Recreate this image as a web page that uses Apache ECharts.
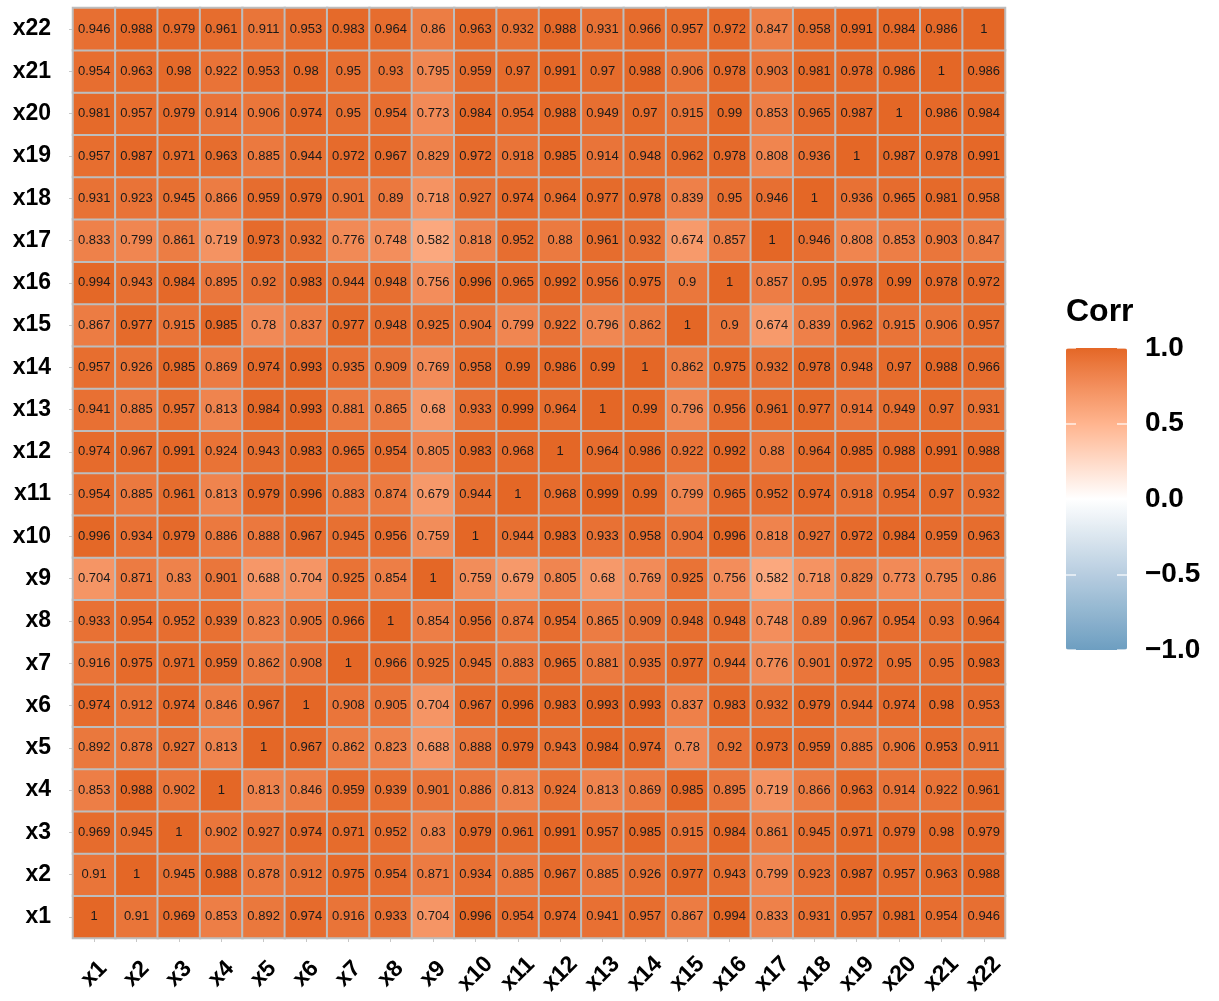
<!DOCTYPE html>
<html>
<head>
<meta charset="utf-8">
<script src="https://cdn.jsdelivr.net/npm/echarts@6/dist/echarts.min.js"></script>
<style>
  html, body { margin: 0; padding: 0; background: #fff; }
  #main { width: 1219px; height: 1001px; }
</style>
</head>
<body>
<div id="main"></div>
<script>
// variable names, bottom to top / left to right
var vars = ["x1","x2","x3","x4","x5","x6","x7","x8","x9","x10","x11",
            "x12","x13","x14","x15","x16","x17","x18","x19","x20","x21","x22"];

// correlation rows, one per variable (x1 .. x22), columns x1 .. x22
var corrRows = [
  [1,0.91,0.969,0.853,0.892,0.974,0.916,0.933,0.704,0.996,0.954,0.974,0.941,0.957,0.867,0.994,0.833,0.931,0.957,0.981,0.954,0.946],
  [0.91,1,0.945,0.988,0.878,0.912,0.975,0.954,0.871,0.934,0.885,0.967,0.885,0.926,0.977,0.943,0.799,0.923,0.987,0.957,0.963,0.988],
  [0.969,0.945,1,0.902,0.927,0.974,0.971,0.952,0.83,0.979,0.961,0.991,0.957,0.985,0.915,0.984,0.861,0.945,0.971,0.979,0.98,0.979],
  [0.853,0.988,0.902,1,0.813,0.846,0.959,0.939,0.901,0.886,0.813,0.924,0.813,0.869,0.985,0.895,0.719,0.866,0.963,0.914,0.922,0.961],
  [0.892,0.878,0.927,0.813,1,0.967,0.862,0.823,0.688,0.888,0.979,0.943,0.984,0.974,0.78,0.92,0.973,0.959,0.885,0.906,0.953,0.911],
  [0.974,0.912,0.974,0.846,0.967,1,0.908,0.905,0.704,0.967,0.996,0.983,0.993,0.993,0.837,0.983,0.932,0.979,0.944,0.974,0.98,0.953],
  [0.916,0.975,0.971,0.959,0.862,0.908,1,0.966,0.925,0.945,0.883,0.965,0.881,0.935,0.977,0.944,0.776,0.901,0.972,0.95,0.95,0.983],
  [0.933,0.954,0.952,0.939,0.823,0.905,0.966,1,0.854,0.956,0.874,0.954,0.865,0.909,0.948,0.948,0.748,0.89,0.967,0.954,0.93,0.964],
  [0.704,0.871,0.83,0.901,0.688,0.704,0.925,0.854,1,0.759,0.679,0.805,0.68,0.769,0.925,0.756,0.582,0.718,0.829,0.773,0.795,0.86],
  [0.996,0.934,0.979,0.886,0.888,0.967,0.945,0.956,0.759,1,0.944,0.983,0.933,0.958,0.904,0.996,0.818,0.927,0.972,0.984,0.959,0.963],
  [0.954,0.885,0.961,0.813,0.979,0.996,0.883,0.874,0.679,0.944,1,0.968,0.999,0.99,0.799,0.965,0.952,0.974,0.918,0.954,0.97,0.932],
  [0.974,0.967,0.991,0.924,0.943,0.983,0.965,0.954,0.805,0.983,0.968,1,0.964,0.986,0.922,0.992,0.88,0.964,0.985,0.988,0.991,0.988],
  [0.941,0.885,0.957,0.813,0.984,0.993,0.881,0.865,0.68,0.933,0.999,0.964,1,0.99,0.796,0.956,0.961,0.977,0.914,0.949,0.97,0.931],
  [0.957,0.926,0.985,0.869,0.974,0.993,0.935,0.909,0.769,0.958,0.99,0.986,0.99,1,0.862,0.975,0.932,0.978,0.948,0.97,0.988,0.966],
  [0.867,0.977,0.915,0.985,0.78,0.837,0.977,0.948,0.925,0.904,0.799,0.922,0.796,0.862,1,0.9,0.674,0.839,0.962,0.915,0.906,0.957],
  [0.994,0.943,0.984,0.895,0.92,0.983,0.944,0.948,0.756,0.996,0.965,0.992,0.956,0.975,0.9,1,0.857,0.95,0.978,0.99,0.978,0.972],
  [0.833,0.799,0.861,0.719,0.973,0.932,0.776,0.748,0.582,0.818,0.952,0.88,0.961,0.932,0.674,0.857,1,0.946,0.808,0.853,0.903,0.847],
  [0.931,0.923,0.945,0.866,0.959,0.979,0.901,0.89,0.718,0.927,0.974,0.964,0.977,0.978,0.839,0.95,0.946,1,0.936,0.965,0.981,0.958],
  [0.957,0.987,0.971,0.963,0.885,0.944,0.972,0.967,0.829,0.972,0.918,0.985,0.914,0.948,0.962,0.978,0.808,0.936,1,0.987,0.978,0.991],
  [0.981,0.957,0.979,0.914,0.906,0.974,0.95,0.954,0.773,0.984,0.954,0.988,0.949,0.97,0.915,0.99,0.853,0.965,0.987,1,0.986,0.984],
  [0.954,0.963,0.98,0.922,0.953,0.98,0.95,0.93,0.795,0.959,0.97,0.991,0.97,0.988,0.906,0.978,0.903,0.981,0.978,0.986,1,0.986],
  [0.946,0.988,0.979,0.961,0.911,0.953,0.983,0.964,0.86,0.963,0.932,0.988,0.931,0.966,0.957,0.972,0.847,0.958,0.991,0.984,0.986,1]
];

// colour bar ticks
var legendTicks = [-1, -0.5, 0, 0.5, 1];

var cells = [];
corrRows.forEach(function(row, yi) {
  row.forEach(function(v, xi) {
    cells.push([xi, yi, v]);
  });
});

var font = "'Liberation Sans', Arial, sans-serif";

// blue - white - orange, with in-between stops so the ramp looks like a Lab blend
var ramp = ['#6D9EC1', '#92B6D0', '#B7CDE0', '#DBE6EF', '#FFFFFF',
            '#FFD9C7', '#FFB48E', '#F38E5C', '#E46726'];

var chart = echarts.init(document.getElementById('main'));
var option = {
  animation: false,
  textStyle: { fontFamily: font },
  grid: [
    { left: 73, top: 8, width: 932, height: 930 },
    { left: 1066, top: 348, width: 61, height: 302, z: 10 }
  ],
  xAxis: [
    {
      type: 'category', data: vars, gridIndex: 0,
      axisLine: { show: false },
      axisTick: { show: true, length: 4, lineStyle: { color: '#c8c8c8' }, alignWithLabel: true },
      axisLabel: {
        rotate: 45, margin: 36, align: 'center', verticalAlign: 'middle',
        fontSize: 23, fontWeight: 'bold', color: '#000', fontFamily: font
      },
      splitLine: { show: false }
    },
    { type: 'category', data: ['c'], gridIndex: 1, show: false }
  ],
  yAxis: [
    {
      type: 'category', data: vars, gridIndex: 0,
      axisLine: { show: false },
      axisTick: { show: true, length: 4, lineStyle: { color: '#c8c8c8' }, alignWithLabel: true },
      axisLabel: { margin: 22, fontSize: 23, fontWeight: 'bold', color: '#000', fontFamily: font },
      splitLine: { show: false }
    },
    {
      type: 'value', gridIndex: 1, position: 'right', min: -1, max: 1, interval: 0.5, z: 10,
      axisLine: { show: false },
      splitLine: { show: false },
      axisTick: { show: true, inside: true, length: 10, lineStyle: { color: '#ffffff', width: 1.5, opacity: 0.8 } },
      axisLabel: {
        margin: 18, fontSize: 28, fontWeight: 'bold', color: '#000', fontFamily: font,
        formatter: function(v) {
          if (legendTicks.indexOf(v) < 0) return '';
          var s = Math.abs(v).toFixed(1);
          return v < 0 ? '\u2212' + s : s;
        }
      }
    },
    {
      type: 'value', gridIndex: 1, position: 'left', min: -1, max: 1, interval: 0.5, z: 10,
      axisLine: { show: false },
      splitLine: { show: false },
      axisTick: { show: true, inside: true, length: 10, lineStyle: { color: '#ffffff', width: 1.5, opacity: 0.8 } },
      axisLabel: { show: false }
    }
  ],
  visualMap: {
    type: 'continuous',
    seriesIndex: 0,
    min: -1, max: 1,
    calculable: false,
    orient: 'vertical',
    left: 1066, top: 348,
    padding: 0,
    itemWidth: 61, itemHeight: 302,
    text: null,
    showLabel: false,
    inRange: { color: ramp },
    hoverLink: false,
    z: 2
  },
  graphic: [
    {
      type: 'text', left: 1066, top: 296,
      style: { text: 'Corr', fontSize: 32, fontWeight: 'bold', fill: '#000', fontFamily: font }
    }
  ],
  series: [
    {
      type: 'heatmap',
      xAxisIndex: 0, yAxisIndex: 0,
      data: cells,
      itemStyle: { borderColor: '#bdbdbd', borderWidth: 2 },
      label: {
        show: true, fontSize: 13, color: '#1a1a1a', fontFamily: font,
        formatter: function(p) { return String(p.value[2]); }
      },
      emphasis: { disabled: true }
    }
  ]
};
chart.setOption(option);
</script>
</body>
</html>
